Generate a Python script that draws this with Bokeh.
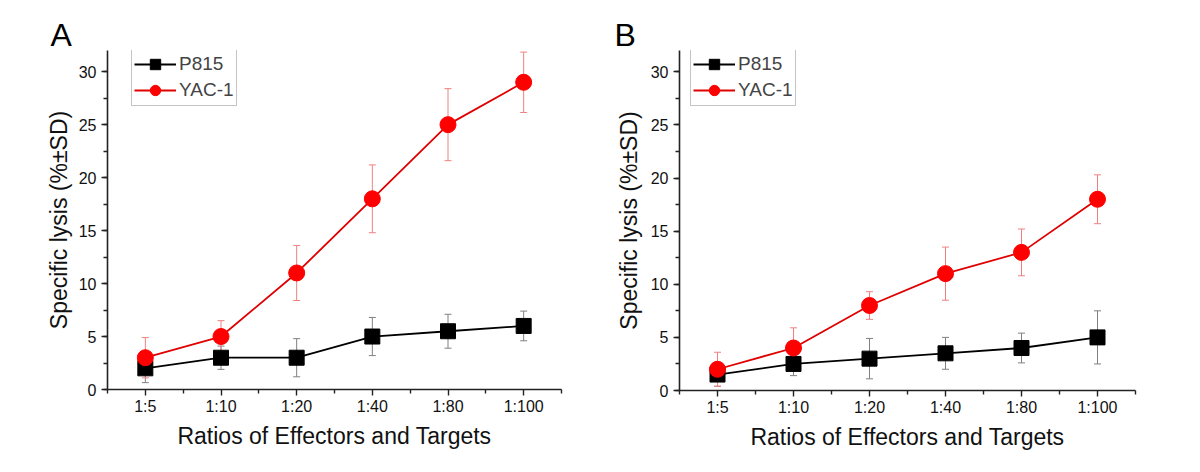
from bokeh.plotting import figure
from bokeh.models import (ColumnDataSource, Whisker, TeeHead, Legend, LegendItem,
                          FixedTicker, SingleIntervalTicker, Range1d)
from bokeh.layouts import row
from bokeh.embed import file_html
from bokeh.resources import INLINE

# ---------------- data ----------------
ratios = ["1:5", "1:10", "1:20", "1:40", "1:80", "1:100"]

a_p815 = [2.0, 3.0, 3.0, 5.0, 5.5, 6.0]
a_p815_sd = [1.35, 1.1, 1.8, 1.8, 1.6, 1.4]
a_yac = [3.0, 5.0, 11.0, 18.0, 25.0, 29.0]
a_yac_sd = [1.9, 1.5, 2.6, 3.2, 3.4, 2.85]

b_p815 = [1.5, 2.5, 3.0, 3.5, 4.0, 5.0]
b_p815_sd = [1.1, 1.1, 1.9, 1.5, 1.4, 2.5]
b_yac = [2.0, 4.0, 8.0, 11.0, 13.0, 18.0]
b_yac_sd = [1.6, 1.9, 1.3, 2.5, 2.2, 2.3]

series_names = ["P815", "YAC-1"]
x_label = "Ratios of Effectors and Targets"
y_label = "Specific lysis (%\u00b1SD)"

FONT = "Liberation Sans"
RED = "#ff0000"
RED_LINE = "#e00000"
RED_ERR = "#f08080"
GREY_ERR = "#808080"


def make_panel(letter, p815, p815_sd, yac, yac_sd, fl, ft, fw, fh, fr, fb,
               letter_offset, legend_x, ylab_standoff):
    xs = list(range(1, len(ratios) + 1))
    p = figure(frame_width=fw, frame_height=fh,
               min_border_left=fl, min_border_top=ft,
               min_border_right=fr, min_border_bottom=fb,
               x_range=Range1d(0.5, len(ratios) + 0.5), y_range=Range1d(0, 32),
               output_backend="svg", toolbar_location=None, tools="")
    p.outline_line_color = None
    p.xgrid.visible = False
    p.ygrid.visible = False
    p.background_fill_color = "white"
    p.border_fill_color = "white"

    # panel letter as title
    p.title.text = letter
    p.title.text_font = FONT
    p.title.text_font_size = "32px"
    p.title.text_font_style = "normal"
    p.title.text_color = "black"
    p.title.align = "left"
    p.title.offset = letter_offset
    p.title.standoff = -5

    src_p = ColumnDataSource(dict(x=xs, y=p815,
                                  lo=[v - e for v, e in zip(p815, p815_sd)],
                                  hi=[v + e for v, e in zip(p815, p815_sd)]))
    src_y = ColumnDataSource(dict(x=xs, y=yac,
                                  lo=[v - e for v, e in zip(yac, yac_sd)],
                                  hi=[v + e for v, e in zip(yac, yac_sd)]))

    for src, col in ((src_p, GREY_ERR), (src_y, RED_ERR)):
        w = Whisker(base="x", upper="hi", lower="lo", source=src, dimension="height",
                    line_color=col, line_width=1, level="underlay",
                    upper_head=TeeHead(size=7, line_color=col, line_width=1),
                    lower_head=TeeHead(size=7, line_color=col, line_width=1))
        p.add_layout(w)

    lp = p.line("x", "y", source=src_p, line_color="black", line_width=1.8)
    sp = p.scatter("x", "y", source=src_p, marker="square", size=15,
                   fill_color="black", line_color="black")
    ly = p.line("x", "y", source=src_y, line_color=RED_LINE, line_width=1.8)
    sy = p.scatter("x", "y", source=src_y, marker="circle", size=16,
                   fill_color=RED, line_color=RED)

    # axes
    p.xaxis.ticker = FixedTicker(ticks=xs, minor_ticks=[x - 0.5 for x in xs] + [xs[-1] + 0.5])
    p.xaxis.major_label_overrides = {x: r for x, r in zip(xs, ratios)}
    p.yaxis.ticker = SingleIntervalTicker(interval=5, num_minor_ticks=2)
    p.xaxis.axis_label = x_label
    p.yaxis.axis_label = y_label
    for ax in (p.xaxis[0], p.yaxis[0]):
        ax.axis_line_color = "#222222"
        ax.axis_line_width = 1.6
        ax.major_tick_line_color = "#222222"
        ax.minor_tick_line_color = "#222222"
        ax.major_tick_line_width = 1.4
        ax.minor_tick_line_width = 1.4
        ax.major_tick_out = 6
        ax.major_tick_in = 0
        ax.minor_tick_out = 4
        ax.minor_tick_in = 0
        ax.major_label_text_font = FONT
        ax.major_label_text_font_size = "16px"
        ax.major_label_text_color = "#111111"
        ax.axis_label_text_font = FONT
        ax.axis_label_text_font_size = "23px"
        ax.axis_label_text_font_style = "normal"
        ax.axis_label_text_color = "#111111"
    p.xaxis.major_label_standoff = 2
    p.yaxis.major_label_standoff = 5
    p.xaxis.axis_label_standoff = 5
    p.yaxis.axis_label_standoff = ylab_standoff

    # legend
    pad = 2
    gh = 26
    leg_h = 2 * gh + 2 * pad
    legend = Legend(items=[LegendItem(label=series_names[0], renderers=[lp, sp]),
                           LegendItem(label=series_names[1], renderers=[ly, sy])],
                    location=(legend_x, fh - leg_h))
    legend.glyph_width = 42
    legend.glyph_height = gh
    legend.label_height = 20
    legend.spacing = 0
    legend.padding = pad
    legend.margin = 0
    legend.label_standoff = 3
    legend.label_text_font = FONT
    legend.label_text_font_size = "19px"
    legend.border_line_color = "#8a8a8a"
    legend.border_line_width = 1
    legend.background_fill_color = "white"
    legend.background_fill_alpha = 1.0
    p.add_layout(legend, "center")
    return p


pa = make_panel("A", a_p815, a_p815_sd, a_yac, a_yac_sd,
                fl=107, ft=50, fw=454, fh=339, fr=47, fb=70,
                letter_offset=-57, legend_x=24, ylab_standoff=4)
pb = make_panel("B", b_p815, b_p815_sd, b_yac, b_yac_sd,
                fl=71, ft=46, fw=456, fh=340, fr=57, fb=73,
                letter_offset=-65, legend_x=11, ylab_standoff=6)

layout = row(pa, pb, spacing=0)
open("out.html", "w").write(file_html(layout, INLINE))
